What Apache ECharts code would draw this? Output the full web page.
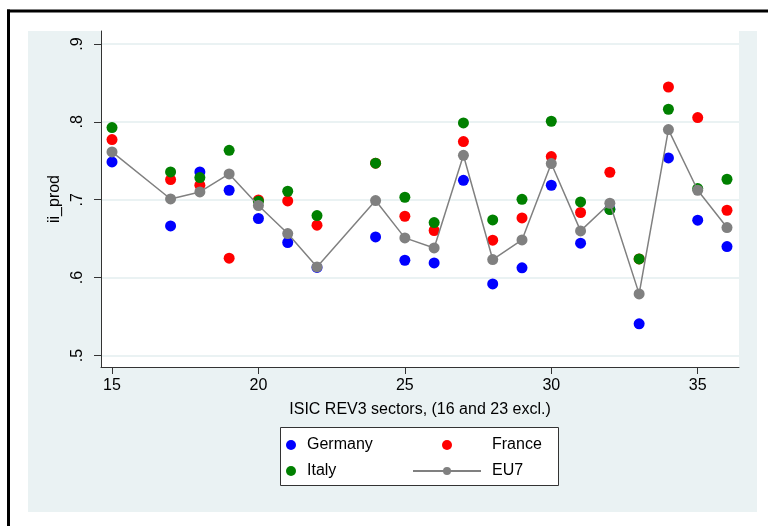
<!DOCTYPE html>
<html><head><meta charset="utf-8">
<script src="https://cdn.jsdelivr.net/npm/echarts@6/dist/echarts.min.js"></script>
<style>html,body{margin:0;padding:0;background:#fff}#c{width:768px;height:526px}</style>
</head><body><div id="c"></div>
<script>
const sectors = [15,17,18,19,20,21,22,24,25,26,27,28,29,30,31,32,33,34,35,36];
const germany = [0.7485,0.6664,0.7357,0.7122,0.6759,0.6451,0.613,0.6522,0.6223,0.6189,0.725,0.5919,0.6125,0.7186,0.6442,0.688,0.5406,0.7537,0.6737,0.6399];
const france  = [0.7773,0.7259,0.7186,0.6249,0.6997,0.6985,0.6673,0.7469,0.6788,0.6605,0.7747,0.648,0.6766,0.7555,0.6836,0.7353,0.624,0.8448,0.8055,0.6865];
const italy   = [0.7927,0.7357,0.7285,0.7635,0.6981,0.7109,0.6797,0.7469,0.7032,0.6707,0.7986,0.6741,0.7006,0.8008,0.6972,0.6874,0.624,0.8162,0.7144,0.7263];
const eu7     = [0.7614,0.701,0.71,0.7331,0.6926,0.6566,0.6137,0.699,0.651,0.6381,0.7571,0.6232,0.6484,0.7465,0.66,0.6955,0.5791,0.7901,0.7122,0.6643];
const yTicks = [0.5,0.6,0.7,0.8,0.9];
const xTicks = [15,20,25,30,35];

const pair = arr => sectors.map((s,i)=>[s,arr[i]]);
const FONT = 'Liberation Sans, Arial, sans-serif';
const chart = echarts.init(document.getElementById('c'), null, {renderer:'canvas'});
const fmtY = v => { const s = (Math.round(v*10)/10).toFixed(1); return s.replace(/^0/,''); };

chart.setOption({
  backgroundColor:'#ffffff',
  animation:false,
  graphic:[
    {type:'rect', z:-10, shape:{x:28,y:31,width:729,height:481}, style:{fill:'#eaf2f3'}, silent:true},
    {type:'rect', z:-10, shape:{x:7,y:9.5,width:761,height:3}, style:{fill:'#000'}, silent:true},
    {type:'rect', z:-10, shape:{x:7,y:9.5,width:3,height:517}, style:{fill:'#000'}, silent:true},
    {type:'rect', z:-5, shape:{x:280.5,y:427.5,width:278,height:58}, style:{fill:'#fff',stroke:'#333',lineWidth:1}, silent:true}
  ],
  grid:{left:101, top:31, width:638, height:336, show:true, backgroundColor:'#fff', borderWidth:0},
  xAxis:{
    type:'value', min:14.624, max:36.41,
    name:'ISIC REV3 sectors, (16 and 23 excl.)', nameLocation:'middle', nameGap:35,
    nameTextStyle:{fontFamily:FONT, fontSize:16, color:'#000'},
    axisLine:{show:true, onZero:false, lineStyle:{color:'#333', width:1}},
    axisTick:{show:true, length:7, customValues:xTicks, lineStyle:{color:'#333'}},
    axisLabel:{customValues:xTicks, fontFamily:FONT, fontSize:16, color:'#000', margin:11},
    splitLine:{show:false}
  },
  yAxis:{
    type:'value', min:0.4852, max:0.9167,
    name:'ii_prod', nameLocation:'middle', nameGap:32, nameRotate:90,
    nameTextStyle:{fontFamily:FONT, fontSize:16, color:'#000'},
    axisLine:{show:true, onZero:false, lineStyle:{color:'#333', width:1}},
    axisTick:{show:true, length:7, customValues:yTicks, lineStyle:{color:'#333'}},
    axisLabel:{customValues:yTicks, rotate:90, formatter:fmtY, fontFamily:FONT, fontSize:16, color:'#000', margin:15},
    splitLine:{show:true, lineStyle:{color:'#eaf2f3', width:2}}
  },
  legend:[
    {data:['Germany','Italy'], orient:'vertical', left:286, top:437, padding:0, itemWidth:10, itemHeight:10, itemGap:10,
     textStyle:{fontFamily:FONT, fontSize:16, color:'#000', padding:[0,0,0,6]}},
    {data:['France','EU7'], orient:'vertical', left:412, top:437, padding:0, itemWidth:68, itemHeight:10, itemGap:10,
     textStyle:{fontFamily:FONT, fontSize:16, color:'#000', padding:[0,0,0,6]}}
  ],
  series:[
    {name:'Germany', type:'scatter', data:pair(germany), symbol:'circle', symbolSize:11, itemStyle:{color:'#0000ff', opacity:1}},
    {name:'France', type:'scatter', data:pair(france), symbol:'circle', symbolSize:11, itemStyle:{color:'#ff0000', opacity:1}},
    {name:'Italy', type:'scatter', data:pair(italy), symbol:'circle', symbolSize:11, itemStyle:{color:'#008000', opacity:1}},
    {name:'EU7', type:'line', data:pair(eu7), symbol:'circle', symbolSize:11, showAllSymbol:true,
     itemStyle:{color:'#808080', opacity:1}, lineStyle:{color:'#808080', width:1.5}}
  ]
});
</script></body></html>
